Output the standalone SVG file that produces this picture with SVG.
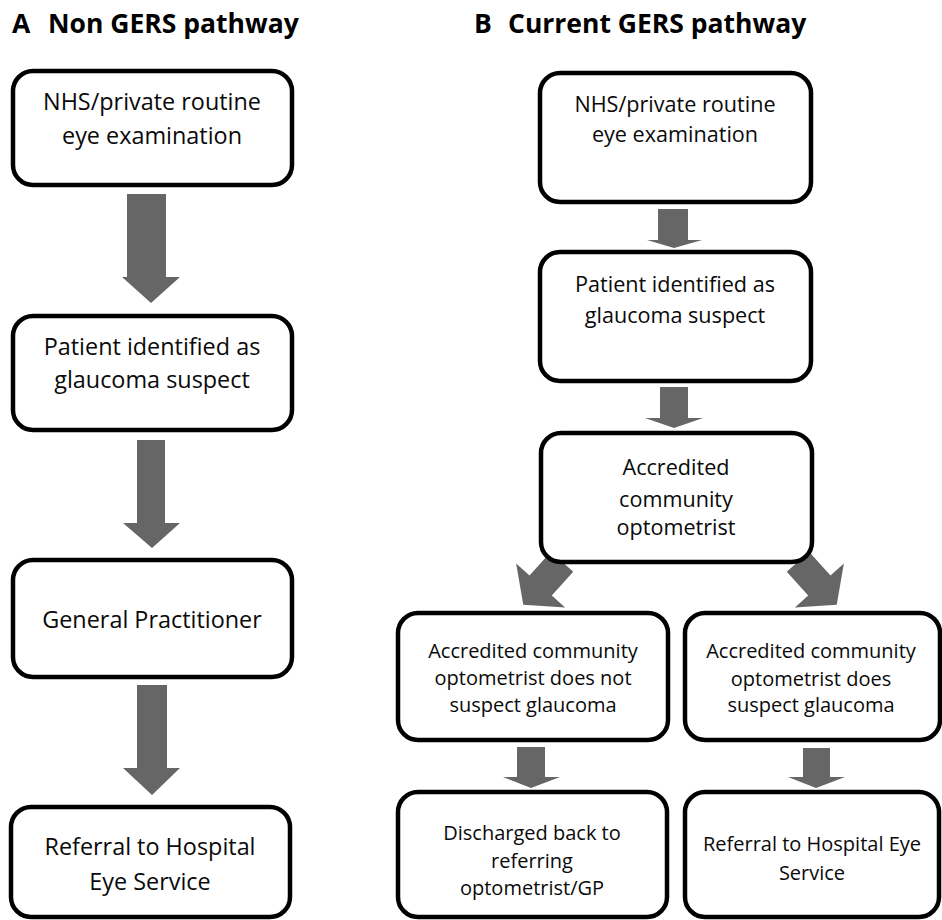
<svg xmlns="http://www.w3.org/2000/svg" width="942" height="920" viewBox="0 0 942 920">
<style>
.box{fill:#fff;stroke:#000;stroke-width:4.5}
.arrow{fill:#666}
text{font-family:"Open Sans","Noto Sans",sans-serif;fill:#0a0a0a;text-anchor:middle}
.title{font-weight:bold;font-size:26.5px;text-anchor:start;fill:#000}
.t1{font-size:23.4px}
.t2{font-size:21.6px}
.t3{font-size:20px}
</style>
<rect width="942" height="920" fill="#fff"/>
<g id="titles">
<text class="title" x="12" y="33">A</text>
<text class="title" x="48" y="33">Non GERS pathway</text>
<text class="title" x="474" y="33">B</text>
<text class="title" x="508" y="33">Current GERS pathway</text>
</g>
<g id="connectors">
<polygon class="arrow" points="127,194 166,194 166,277 180,277 151,303 122,277 127,277"/>
<polygon class="arrow" points="137,440 165,440 165,523 180,523 152,548 123,523 137,523"/>
<polygon class="arrow" points="137,685 167,685 167,768 180,768 152,795 123,768 137,768"/>
<polygon class="arrow" points="658,209 688,209 688,240 702,240 674,248 647,240 658,240"/>
<polygon class="arrow" points="660,387 688,387 688,418 703,418 674,428 645,418 660,418"/>
<polygon class="arrow" transform="translate(542,584) rotate(42)" points="-15,-30 15,-30 15,2 33,2 0,28 -33,2 -15,2"/>
<polygon class="arrow" transform="translate(818,584) rotate(-42)" points="-15,-30 15,-30 15,2 33,2 0,28 -33,2 -15,2"/>
<polygon class="arrow" points="517,747 545,747 545,777 560,777 531,788 503,777 517,777"/>
<polygon class="arrow" points="803,748 830,748 830,777 845,777 816,788 788,777 803,777"/>
</g>
<g id="a1"><rect class="box" x="13" y="71" width="279" height="114" rx="20"/>
<text class="t1" x="152" y="110">NHS/private routine</text><text class="t1" x="152" y="144">eye examination</text></g>
<g id="a2"><rect class="box" x="13" y="316" width="279" height="114" rx="20"/>
<text class="t1" x="152" y="355">Patient identified as</text><text class="t1" x="152" y="388">glaucoma suspect</text></g>
<g id="a3"><rect class="box" x="13" y="560" width="279" height="117" rx="20"/>
<text class="t1" x="152" y="628">General Practitioner</text></g>
<g id="a4"><rect class="box" x="11" y="807" width="279" height="110" rx="20"/>
<text class="t1" x="150" y="855">Referral to Hospital</text><text class="t1" x="150" y="890">Eye Service</text></g>
<g id="b1"><rect class="box" x="540" y="73" width="271" height="129" rx="20"/>
<text class="t2" x="675" y="112">NHS/private routine</text><text class="t2" x="675" y="142">eye examination</text></g>
<g id="b2"><rect class="box" x="540" y="252" width="271" height="129" rx="20"/>
<text class="t2" x="675" y="292">Patient identified as</text><text class="t2" x="675" y="323">glaucoma suspect</text></g>
<g id="b3"><rect class="box" x="541" y="433" width="271" height="129" rx="20"/>
<text class="t2" x="676" y="475">Accredited</text><text class="t2" x="676" y="507">community</text><text class="t2" x="676" y="535">optometrist</text></g>
<g id="b4l"><rect class="box" x="398" y="613" width="270" height="127" rx="20"/>
<text class="t3" x="533" y="658">Accredited community</text><text class="t3" x="533" y="685">optometrist does not</text><text class="t3" x="533" y="712">suspect glaucoma</text></g>
<g id="b4r"><rect class="box" x="685" y="613" width="255" height="127" rx="20"/>
<text class="t3" x="811" y="658">Accredited community</text><text class="t3" x="811" y="686">optometrist does</text><text class="t3" x="811" y="712">suspect glaucoma</text></g>
<g id="b5l"><rect class="box" x="398" y="792" width="269" height="125" rx="20"/>
<text class="t3" x="532" y="840">Discharged back to</text><text class="t3" x="532" y="868">referring</text><text class="t3" x="532" y="895">optometrist/GP</text></g>
<g id="b5r"><rect class="box" x="685" y="792" width="254" height="125" rx="20"/>
<text class="t3" x="812" y="851">Referral to Hospital Eye</text><text class="t3" x="812" y="880">Service</text></g>
</svg>
